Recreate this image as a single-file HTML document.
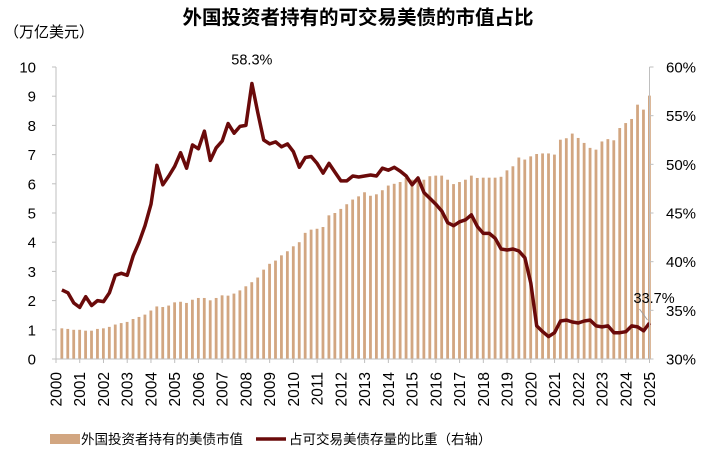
<!DOCTYPE html>
<html><head><meta charset="utf-8">
<style>
body{margin:0;background:#fff;}
svg{display:block;font-family:"Liberation Sans","Noto Sans CJK SC",sans-serif;}
</style></head>
<body>
<svg id="chart" width="712" height="455" viewBox="0 0 712 455">
<text x="358" y="24" text-anchor="middle" font-size="19.5" font-weight="bold" fill="#000">外国投资者持有的可交易美债的市值占比</text>
<text x="4" y="37" font-size="15" fill="#000">（万亿美元）</text>
<g id="grid"></g>
<g id="bars"></g>
<g id="line"></g>
<g id="axes"></g>
<g id="legend">
  <rect x="50" y="434" width="30" height="10" fill="#d2a681"></rect>
  <text x="81" y="444" font-size="13.5" fill="#000">外国投资者持有的美债市值</text>
  <line x1="256" y1="439" x2="286" y2="439" stroke="#6a0a0a" stroke-width="3.5"></line>
  <text x="289" y="444" font-size="13.5" fill="#000">占可交易美债存量的比重（右轴）</text>
</g>
</svg>
<script>
const years = ["2000","2001","2002","2003","2004","2005","2006","2007","2008","2009","2010","2011","2012","2013","2014","2015","2016","2017","2018","2019","2020","2021","2022","2023","2024","2025"];
const leftTicks = ["0","1","2","3","4","5","6","7","8","9","10"];
const rightTicks = ["30%","35%","40%","45%","50%","55%","60%"];
const holdings = [1.05,1.03,1.0,1.0,0.97,0.97,1.03,1.05,1.1,1.18,1.23,1.27,1.37,1.44,1.52,1.66,1.8,1.78,1.83,1.94,1.96,1.92,2.03,2.09,2.09,2.01,2.09,2.18,2.17,2.24,2.35,2.49,2.63,2.79,3.06,3.26,3.37,3.55,3.69,3.86,4.0,4.32,4.43,4.46,4.52,4.92,5.0,5.14,5.3,5.46,5.57,5.71,5.59,5.64,5.78,5.94,6.0,6.06,6.2,6.14,6.12,6.14,6.26,6.28,6.28,6.14,5.99,6.06,6.14,6.28,6.2,6.21,6.21,6.21,6.24,6.46,6.6,6.9,6.83,6.94,7.02,7.04,7.04,7.0,7.51,7.56,7.72,7.57,7.4,7.23,7.17,7.45,7.53,7.49,7.91,8.08,8.22,8.71,8.54,9.02];
const share = [37.1,36.8,35.75,35.3,36.4,35.5,36.0,35.9,36.8,38.6,38.8,38.6,40.6,42.0,43.7,45.9,49.9,47.9,48.8,49.8,51.2,49.6,52.0,51.6,53.4,50.4,51.7,52.4,54.2,53.2,53.9,54.0,58.3,55.3,52.5,52.1,52.3,51.8,52.1,51.3,49.7,50.7,50.8,50.1,49.1,50.1,49.2,48.3,48.3,48.8,48.7,48.8,48.9,48.8,49.6,49.4,49.7,49.3,48.8,47.9,48.6,47.1,46.5,45.9,45.2,44.0,43.7,44.1,44.3,44.8,43.6,42.9,42.9,42.4,41.3,41.2,41.3,41.1,40.4,37.8,33.4,32.8,32.3,32.7,33.9,34.0,33.8,33.7,33.9,34.0,33.4,33.3,33.4,32.7,32.7,32.8,33.4,33.3,32.9,33.7];

const NS="http://www.w3.org/2000/svg";
const X0=56, X1=649.5, YB=359, YT=67;
const xYear = t => X0 + (t-2000)*(X1-X0)/25;
const yL = v => YB - v*(YB-YT)/10;
const yR = p => YB - (p-30)*(YB-YT)/30;
function mk(tag, attrs, parent){const e=document.createElementNS(NS,tag);for(const k in attrs)e.setAttribute(k,attrs[k]);parent.appendChild(e);return e;}
const gB=document.getElementById('bars'), gL=document.getElementById('line'), gA=document.getElementById('axes');

holdings.forEach((v,i)=>{
  const cx=xYear(2000+0.25*(i+1));
  const r=mk('rect',{x:cx-1.5,y:yL(v),width:2.8,height:YB-yL(v),fill:'#d2a681'},gB);
  
  
});

const pts=share.map((p,i)=>xYear(2000+0.25*(i+1)).toFixed(1)+','+yR(p).toFixed(1)).join(' ');
const pl=mk('polyline',{points:pts,fill:'none',stroke:'#6a0a0a','stroke-width':3.5,'stroke-linejoin':'round'},gL);



const la=mk('line',{x1:X0,y1:YT,x2:X0,y2:YB,stroke:'#bfbfbf','stroke-width':1},gA);


const ra=mk('line',{x1:X1,y1:YT,x2:X1,y2:YB,stroke:'#bfbfbf','stroke-width':1},gA);


const xa=mk('line',{x1:X0,y1:YB,x2:X1,y2:YB,stroke:'#bfbfbf','stroke-width':1},gA);



leftTicks.forEach((t,i)=>{
  const y=yL(i);
  mk('line',{x1:X0-4,y1:y,x2:X0,y2:y,stroke:'#bfbfbf'},gA);
  const tx=mk('text',{x:36,y:y+5.5,'text-anchor':'end','font-size':15,fill:'#000'},gA);
  tx.textContent=t;
  
  
});
rightTicks.forEach((t,i)=>{
  const y=yR(30+i*5);
  mk('line',{x1:X1,y1:y,x2:X1+4,y2:y,stroke:'#bfbfbf'},gA);
  const tx=mk('text',{x:666,y:y+5.5,'font-size':15,fill:'#000'},gA);
  tx.textContent=t;
  
  
});
years.forEach((t,i)=>{
  const x=xYear(2000+i);
  mk('line',{x1:x,y1:YB,x2:x,y2:YB+4,stroke:'#bfbfbf'},gA);
  const tx=mk('text',{x:0,y:0,'text-anchor':'end','font-size':15.5,fill:'#000',transform:`translate(${x+5.5},${YB+13}) rotate(-90)`},gA);
  tx.textContent=t;
  
  
});

const iMax=share.indexOf(Math.max(...share));
const a1=mk('text',{x:xYear(2000+0.25*(iMax+1)),y:yR(share[iMax])-19,'text-anchor':'middle','font-size':14.5,fill:'#000'},gA);
a1.textContent=share[iMax].toFixed(1)+'%';


const last=share.length-1, lx=xYear(2000+0.25*(last+1)), ly=yR(share[last]);
mk('line',{x1:lx-2,y1:ly-3,x2:lx-10,y2:ly-14,stroke:'#a0a0a0','stroke-width':1},gA);
const a2=mk('text',{x:lx-16,y:ly-20,'font-size':14.5,fill:'#000','text-anchor':'start'},gA);
a2.textContent=share[last].toFixed(1)+'%';


</script>
</body></html>
